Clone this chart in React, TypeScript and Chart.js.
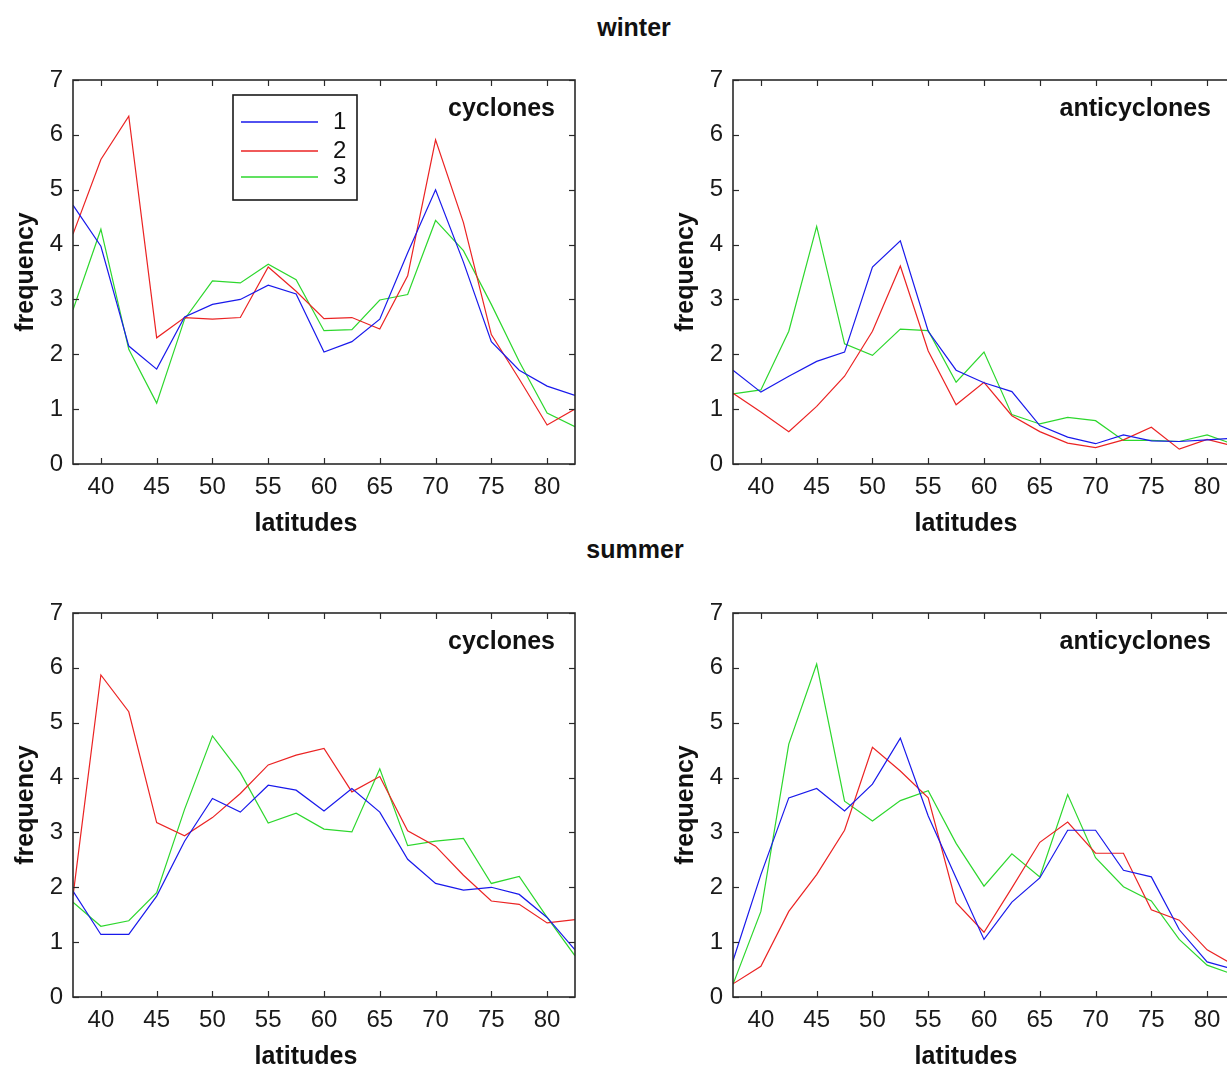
import React, { useEffect, useRef } from "react";
import { Chart, registerables } from "chart.js";

Chart.register(...registerables);

const FONT = "'Liberation Sans', Arial, Helvetica, sans-serif";

// ---- data ----
const latitudes = [37.5, 40, 42.5, 45, 47.5, 50, 52.5, 55, 57.5, 60, 62.5, 65, 67.5, 70, 72.5, 75, 77.5, 80, 82.5];
const xTickValues = [40, 45, 50, 55, 60, 65, 70, 75, 80];
const yTickValues = [0, 1, 2, 3, 4, 5, 6, 7];
const seriesLabels = ["1", "2", "3"];

const winterCyclones1 = [4.72, 3.97, 2.15, 1.73, 2.68, 2.91, 3.0, 3.26, 3.1, 2.04, 2.23, 2.64, 3.85, 5.0, 3.68, 2.23, 1.71, 1.42, 1.25];
const winterCyclones2 = [4.19, 5.55, 6.34, 2.3, 2.67, 2.64, 2.67, 3.59, 3.15, 2.65, 2.67, 2.46, 3.43, 5.91, 4.4, 2.36, 1.55, 0.71, 1.0];
const winterCyclones3 = [2.81, 4.28, 2.09, 1.11, 2.64, 3.34, 3.3, 3.64, 3.36, 2.43, 2.45, 2.99, 3.09, 4.44, 3.89, 2.91, 1.87, 0.93, 0.68];

const winterAnti1 = [1.71, 1.31, 1.6, 1.87, 2.04, 3.59, 4.07, 2.42, 1.71, 1.48, 1.32, 0.7, 0.49, 0.37, 0.53, 0.42, 0.41, 0.44, 0.47];
const winterAnti2 = [1.29, 0.95, 0.59, 1.05, 1.6, 2.42, 3.61, 2.06, 1.08, 1.49, 0.88, 0.59, 0.38, 0.3, 0.44, 0.67, 0.27, 0.45, 0.32];
const winterAnti3 = [1.28, 1.35, 2.42, 4.33, 2.19, 1.98, 2.46, 2.43, 1.49, 2.04, 0.9, 0.73, 0.85, 0.79, 0.43, 0.43, 0.41, 0.53, 0.35];

const summerCyclones1 = [1.93, 1.14, 1.14, 1.84, 2.84, 3.62, 3.37, 3.86, 3.77, 3.39, 3.8, 3.37, 2.51, 2.07, 1.95, 2.0, 1.87, 1.45, 0.86];
const summerCyclones2 = [1.84, 5.87, 5.2, 3.18, 2.94, 3.27, 3.71, 4.23, 4.41, 4.53, 3.74, 4.02, 3.03, 2.75, 2.22, 1.75, 1.69, 1.35, 1.41];
const summerCyclones3 = [1.73, 1.29, 1.39, 1.9, 3.42, 4.76, 4.09, 3.17, 3.35, 3.06, 3.01, 4.16, 2.76, 2.84, 2.89, 2.07, 2.2, 1.45, 0.75];

const summerAnti1 = [0.66, 2.23, 3.63, 3.8, 3.39, 3.88, 4.72, 3.3, 2.17, 1.05, 1.73, 2.17, 3.04, 3.04, 2.31, 2.19, 1.23, 0.64, 0.5];
const summerAnti2 = [0.24, 0.56, 1.56, 2.23, 3.04, 4.55, 4.12, 3.63, 1.72, 1.18, 1.99, 2.82, 3.19, 2.62, 2.62, 1.59, 1.4, 0.86, 0.57];
const summerAnti3 = [0.23, 1.56, 4.61, 6.07, 3.57, 3.21, 3.58, 3.76, 2.8, 2.02, 2.61, 2.19, 3.69, 2.54, 2.01, 1.75, 1.05, 0.58, 0.4];

const seriesColors = ["rgb(25,25,235)", "rgb(235,35,35)", "rgb(45,215,45)"];

// ---- decoration plugin: frame, inward ticks, panel name, x label, legend ----
const panelDecor = {
  id: "panelDecor",
  afterDatasetsDraw(chart: any, _args: any, opts: any) {
    const { ctx, chartArea: a, scales } = chart;
    ctx.save();
    const line = (x1: number, y1: number, x2: number, y2: number) => {
      ctx.beginPath();
      ctx.moveTo(x1, y1);
      ctx.lineTo(x2, y2);
      ctx.stroke();
    };
    ctx.strokeStyle = "#2a2a2a";
    ctx.lineWidth = 1.2;
    const tl = 6;
    xTickValues.forEach((v) => {
      const x = Math.round(scales.x.getPixelForValue(v)) + 0.5;
      line(x, a.bottom, x, a.bottom - tl);
      line(x, a.top, x, a.top + tl);
    });
    yTickValues.forEach((v) => {
      const y = Math.round(scales.y.getPixelForValue(v)) + 0.5;
      line(a.left, y, a.left + tl, y);
      line(a.right, y, a.right - tl, y);
    });
    ctx.lineWidth = 1.6;
    ctx.strokeRect(a.left, a.top, a.right - a.left, a.bottom - a.top);

    ctx.fillStyle = "#111";
    ctx.font = `bold 25px ${FONT}`;
    ctx.textBaseline = "alphabetic";
    ctx.textAlign = "right";
    ctx.fillText(opts.name, a.right - opts.nameRight, a.top + 36);
    ctx.textAlign = "center";
    ctx.fillText(opts.xLabel, (a.left + a.right) / 2 + opts.xLabelShift, a.bottom + 67);

    if (opts.legend) {
      const bx = a.left + 160;
      const by = a.top + 15;
      ctx.fillStyle = "#fff";
      ctx.fillRect(bx, by, 124, 105);
      ctx.strokeStyle = "#1a1a1a";
      ctx.lineWidth = 1.6;
      ctx.strokeRect(bx, by, 124, 105);
      const rows = [27, 56, 82];
      chart.data.datasets.forEach((ds: any, i: number) => {
        ctx.strokeStyle = ds.borderColor;
        ctx.lineWidth = 1.4;
        line(bx + 8, by + rows[i], bx + 85, by + rows[i]);
        ctx.fillStyle = "#111";
        ctx.font = `24px ${FONT}`;
        ctx.textAlign = "left";
        ctx.textBaseline = "middle";
        ctx.fillText(ds.label, bx + 100, by + rows[i]);
      });
    }
    ctx.restore();
  },
};

type PanelProps = {
  left: number;
  top: number;
  series: number[][];
  name: string;
  nameRight: number;
  legend: boolean;
};

function Panel({ left, top, series, name, nameRight, legend }: PanelProps) {
  const ref = useRef<HTMLCanvasElement>(null);
  useEffect(() => {
    const chart = new Chart(ref.current as HTMLCanvasElement, {
      type: "line",
      data: {
        datasets: series.map((vals, i) => ({
          label: seriesLabels[i],
          data: latitudes.map((lat, j) => ({ x: lat, y: vals[j] })),
          borderColor: seriesColors[i],
          backgroundColor: seriesColors[i],
          borderWidth: 1.2,
          pointRadius: 0,
          tension: 0,
          fill: false,
        })),
      },
      options: {
        animation: false,
        responsive: false,
        devicePixelRatio: 1,
        layout: { padding: { top: 30, right: 25, left: 0, bottom: 0 } },
        plugins: {
          legend: { display: false },
          tooltip: { enabled: false },
          panelDecor: { name, nameRight, legend, xLabel: "latitudes", xLabelShift: -18 },
        } as any,
        scales: {
          x: {
            type: "linear",
            min: 37.5,
            max: 82.5,
            grid: { display: false, drawTicks: false },
            border: { display: false },
            afterBuildTicks: (scale: any) => {
              scale.ticks = xTickValues.map((v) => ({ value: v }));
            },
            afterFit: (scale: any) => {
              scale.height = 86;
            },
            ticks: {
              padding: 9,
              maxRotation: 0,
              autoSkip: false,
              color: "#1a1a1a",
              font: { family: FONT, size: 24 },
              callback: (v: any) => String(v),
            },
          },
          y: {
            type: "linear",
            min: 0,
            max: 7,
            grid: { display: false, drawTicks: false },
            border: { display: false },
            afterBuildTicks: (scale: any) => {
              scale.ticks = yTickValues.map((v) => ({ value: v }));
            },
            afterFit: (scale: any) => {
              scale.width = 73;
            },
            ticks: {
              padding: 10,
              color: "#1a1a1a",
              font: { family: FONT, size: 24 },
              callback: (v: any) => String(v),
            },
            title: {
              display: true,
              text: "frequency",
              color: "#111",
              font: { family: FONT, size: 25, weight: "bold" },
              padding: { top: 11, bottom: 0 },
            },
          },
        },
      } as any,
      plugins: [panelDecor as any],
    });
    return () => chart.destroy();
  }, []);
  return (
    <canvas
      ref={ref}
      width={600}
      height={500}
      style={{ position: "absolute", left, top, width: 600, height: 500 }}
    />
  );
}

const headingStyle: React.CSSProperties = {
  position: "absolute",
  width: 200,
  textAlign: "center",
  font: `bold 25px ${FONT}`,
  lineHeight: "30px",
  color: "#111",
};

export default function App() {
  return (
    <div
      style={{
        position: "fixed",
        left: 0,
        top: 0,
        width: 1227,
        height: 1066,
        overflow: "hidden",
        background: "#fff",
      }}
    >
      <div style={{ ...headingStyle, left: 534, top: 12 }}>winter</div>
      <div style={{ ...headingStyle, left: 535, top: 534 }}>summer</div>
      <Panel left={0} top={50} series={[winterCyclones1, winterCyclones2, winterCyclones3]} name="cyclones" nameRight={20} legend={true} />
      <Panel left={660} top={50} series={[winterAnti1, winterAnti2, winterAnti3]} name="anticyclones" nameRight={24} legend={false} />
      <Panel left={0} top={583} series={[summerCyclones1, summerCyclones2, summerCyclones3]} name="cyclones" nameRight={20} legend={false} />
      <Panel left={660} top={583} series={[summerAnti1, summerAnti2, summerAnti3]} name="anticyclones" nameRight={24} legend={false} />
    </div>
  );
}
